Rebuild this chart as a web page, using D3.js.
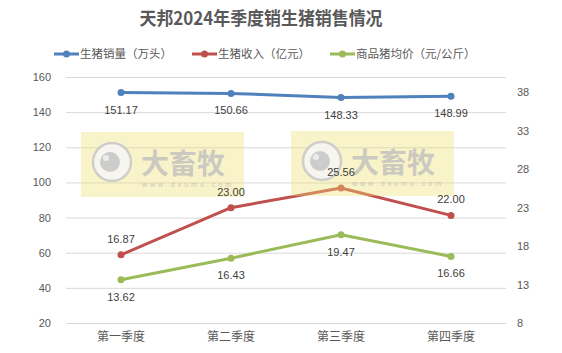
<!DOCTYPE html>
<html><head><meta charset="utf-8">
<script src="https://cdn.jsdelivr.net/npm/d3@7"></script>
<style>body{margin:0;background:#fff}svg{display:block}</style>
</head><body>
<script>
const categories = ["第一季度","第二季度","第三季度","第四季度"];
const salesVolume = [151.17,150.66,148.33,148.99];   // 生猪销量（万头） left axis
const revenue = [16.87,23.00,25.56,22.00];           // 生猪收入（亿元） right axis
const avgPrice = [13.62,16.43,19.47,16.66];          // 商品猪均价（元/公斤） right axis
const leftTicks = [20,40,60,80,100,120,140,160];
const rightTicks = [8,13,18,23,28,33,38];
const seriesNames = ["生猪销量（万头）","生猪收入（亿元）","商品猪均价（元/公斤）"];
const title = "天邦2024年季度销生猪销售情况";

const W=562,H=353;
const svg=d3.select("body").append("svg").attr("width",W).attr("height",H);
const x=d3.scaleBand().domain(categories).range([66,506]);
const yL=d3.scaleLinear().domain([20,160]).range([323,77]);
const yR=d3.scaleLinear().domain([8,40]).range([323,77]);
const font="'Liberation Sans','Noto Sans CJK SC',sans-serif";
const cjk="'Noto Sans CJK SC',sans-serif";

svg.append("text").attr("x",261).attr("y",25).attr("text-anchor","middle")
  .attr("font-family",cjk).attr("font-weight","bold").attr("font-size",18).attr("fill","#595959")
  .attr("textLength",243).attr("lengthAdjust","spacingAndGlyphs").text(title);

// gridlines
svg.append("g").selectAll("line").data(leftTicks).join("line")
  .attr("x1",66).attr("x2",506).attr("y1",d=>yL(d)+0.5).attr("y2",d=>yL(d)+0.5)
  .attr("stroke","#d9d9d9").attr("stroke-width",1);

// left axis
const gL=svg.append("g").attr("transform","translate(51,0)")
  .call(d3.axisLeft(yL).tickValues(leftTicks).tickSize(0).tickPadding(0));
gL.select(".domain").remove();
gL.selectAll("text").attr("font-family",font).attr("font-size",11).attr("fill","#595959");

// right axis
const gR=svg.append("g").attr("transform","translate(517,0)")
  .call(d3.axisRight(yR).tickValues(rightTicks).tickSize(0).tickPadding(0));
gR.select(".domain").remove();
gR.selectAll("text").attr("font-family",font).attr("font-size",11).attr("fill","#595959");

// bottom axis
const gB=svg.append("g").attr("transform","translate(0,333)")
  .call(d3.axisBottom(x).tickSize(0).tickPadding(0));
gB.select(".domain").remove();
gB.selectAll("text").attr("font-family",cjk).attr("font-size",12).attr("fill","#595959").attr("dy","0.7em");

const cx=d=>x(d)+x.bandwidth()/2;
const series=[
  {vals:salesVolume,y:yL,color:"#4F81BD",pos:"below"},
  {vals:revenue,y:yR,color:"#C0504D",pos:"above"},
  {vals:avgPrice,y:yR,color:"#9BBB59",pos:"below"}
];
const layers=[];
series.forEach(s=>{
  const pts=categories.map((c,i)=>[cx(c),s.y(s.vals[i]),s.vals[i]]);
  svg.append("path").attr("d",d3.line()(pts.map(p=>[p[0],p[1]])))
    .attr("fill","none").attr("stroke",s.color).attr("stroke-width",3).attr("stroke-linejoin","round");
  svg.append("g").selectAll("circle").data(pts).join("circle")
    .attr("cx",p=>p[0]).attr("cy",p=>p[1]).attr("r",3.5).attr("fill",s.color);
  layers.push({s,pts});
});

// watermark overlay
[[81,132],[291,131]].forEach(([wx,wy])=>{
  const g=svg.append("g");
  g.append("rect").attr("x",wx).attr("y",wy).attr("width",163).attr("height",65)
    .attr("fill","#f0e070").attr("opacity",0.38);
  g.append("circle").attr("cx",wx+31).attr("cy",wy+30).attr("r",19).attr("fill","#f6f6f6")
    .attr("stroke","#c8c8c8").attr("stroke-width",2.5).attr("opacity",0.85);
  g.append("circle").attr("cx",wx+29).attr("cy",wy+30).attr("r",10).attr("fill","#c4c4c4").attr("opacity",0.85);
  g.append("circle").attr("cx",wx+25).attr("cy",wy+26).attr("r",3).attr("fill","#f0f0f0").attr("opacity",0.9);
  g.append("text").attr("x",wx+60).attr("y",wy+42).attr("font-family",cjk).attr("font-weight","bold")
    .attr("font-size",28).attr("fill","#bdbdbd").attr("opacity",0.75).text("大畜牧");
  g.append("text").attr("x",wx+61).attr("y",wy+55).attr("font-family",font)
    .attr("font-size",7).attr("fill","#bdbdbd").attr("textLength",89).attr("opacity",0.8).text("www.dxumu.com");
});

// data labels on top
layers.forEach(({s,pts})=>{
  svg.append("g").selectAll("text").data(pts).join("text")
    .attr("x",p=>p[0]).attr("y",p=>s.pos==="below"?p[1]+21:p[1]-12)
    .attr("text-anchor","middle").attr("font-family",font).attr("font-size",11).attr("fill","#404040")
    .text(p=>p[2].toFixed(2));
});

// legend
const legX=[54,192,330];
seriesNames.forEach((n,i)=>{
  const g=svg.append("g");
  g.append("line").attr("x1",legX[i]).attr("x2",legX[i]+25).attr("y1",54).attr("y2",54)
    .attr("stroke",series[i].color).attr("stroke-width",3);
  g.append("circle").attr("cx",legX[i]+12.5).attr("cy",54).attr("r",3.5).attr("fill",series[i].color);
  g.append("text").attr("x",legX[i]+26).attr("y",58).attr("font-family",cjk).attr("font-size",11.5)
    .attr("fill","#595959").text(n);
});
</script>
</body></html>
